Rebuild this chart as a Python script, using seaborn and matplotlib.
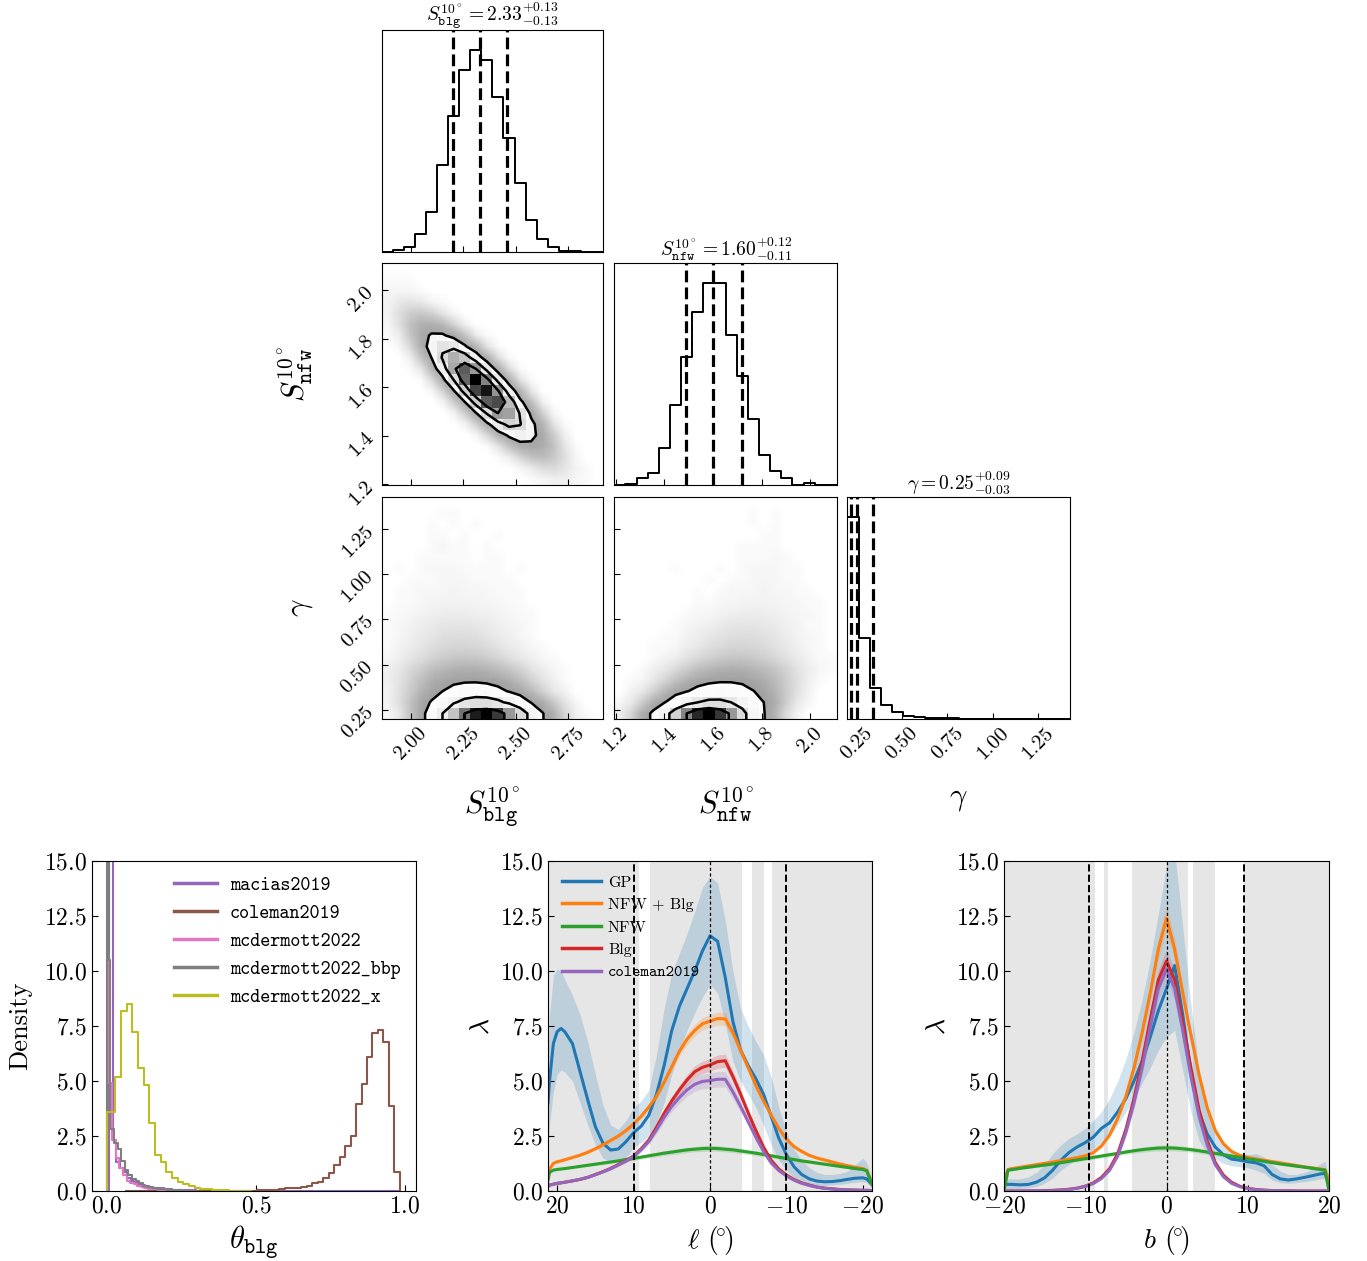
import numpy as np
import matplotlib
matplotlib.use("Agg")
import matplotlib.pyplot as plt
from matplotlib.colors import LinearSegmentedColormap
from matplotlib.lines import Line2D
from matplotlib.ticker import FixedLocator, FormatStrFormatter
import seaborn as sns

plt.rcParams.update({
    "font.family": "serif",
    "font.serif": ["cmr10"],
    "mathtext.fontset": "cm",
    "axes.formatter.use_mathtext": True,
    "axes.unicode_minus": True,
    "xtick.direction": "in",
    "ytick.direction": "in",
})

# ======================= DATA =======================
# ---- corner plot: axis ranges (sample ranges), 20 bins per parameter ----
S_BLG_RANGE = [1.862, 2.916]
S_NFW_RANGE = [1.195, 2.110]
GAMMA_RANGE = [0.200, 1.425]

s_blg_hist = [0.0, 0.007, 0.02, 0.086, 0.198, 0.427, 0.671, 0.897, 1.0, 0.95,
              0.768, 0.56, 0.339, 0.156, 0.06, 0.02, 0.004, 0.001, 0.0, 0.0]
s_nfw_hist = [0.0, 0.007, 0.034, 0.06, 0.184, 0.40, 0.634, 0.857, 1.0, 1.0,
              0.745, 0.54, 0.328, 0.152, 0.069, 0.034, 0.003, 0.009, 0.0, 0.0]
gamma_hist = [1.0, 0.40, 0.154, 0.071, 0.036, 0.016, 0.008, 0.006, 0.004, 0.003,
              0.002, 0.0015, 0.001, 0.001, 0.0005, 0.0005, 0.0003, 0.0002, 0.0001, 0.0]

# median, minus error, plus error
s_blg_summary = [2.33, 0.13, 0.13]
s_nfw_summary = [1.60, 0.11, 0.12]
gamma_summary = [0.25, 0.03, 0.09]

S_BLG_TICKS = [2.00, 2.25, 2.50, 2.75]
S_NFW_TICKS = [1.2, 1.4, 1.6, 1.8, 2.0]
GAMMA_TICKS = [0.25, 0.50, 0.75, 1.00, 1.25]

# 2D histogram counts (rows listed from top of panel to bottom, 20 x-bins each)
BLG_NFW_COUNTS = [
    [0, 0, 0, 0, 0, 0, 0, 0, 0, 0, 0, 0, 0, 0, 0, 0, 0, 0, 0, 0],
    [1, 1, 1, 0, 0, 0, 0, 0, 0, 0, 0, 0, 0, 0, 0, 0, 0, 0, 0, 0],
    [2, 2, 2, 1, 0, 0, 0, 0, 0, 0, 0, 0, 0, 0, 0, 0, 0, 0, 0, 0],
    [3, 7, 9, 7, 3, 1, 0, 0, 0, 0, 0, 0, 0, 0, 0, 0, 0, 0, 0, 0],
    [3, 11, 22, 27, 19, 8, 2, 0, 0, 0, 0, 0, 0, 0, 0, 0, 0, 0, 0, 0],
    [2, 10, 33, 64, 72, 46, 17, 4, 0, 0, 0, 0, 0, 0, 0, 0, 0, 0, 0, 0],
    [1, 5, 28, 88, 157, 160, 94, 32, 6, 1, 0, 0, 0, 0, 0, 0, 0, 0, 0, 0],
    [0, 2, 14, 69, 197, 321, 299, 161, 50, 9, 1, 0, 0, 0, 0, 0, 0, 0, 0, 0],
    [0, 0, 4, 31, 142, 369, 550, 471, 232, 66, 11, 1, 0, 0, 0, 0, 0, 0, 0, 0],
    [0, 0, 1, 8, 59, 243, 580, 792, 621, 281, 73, 11, 1, 0, 0, 0, 0, 0, 0, 0],
    [0, 0, 0, 1, 14, 92, 350, 765, 990, 690, 286, 68, 9, 1, 0, 0, 0, 0, 0, 0],
    [0, 0, 0, 0, 2, 20, 122, 424, 850, 950, 642, 244, 53, 7, 0, 0, 0, 0, 0, 0],
    [0, 0, 0, 0, 0, 3, 24, 135, 431, 790, 832, 504, 176, 35, 4, 0, 0, 0, 0, 0],
    [0, 0, 0, 0, 0, 0, 3, 25, 126, 367, 621, 600, 331, 106, 19, 2, 0, 0, 0, 0],
    [0, 0, 0, 0, 0, 0, 0, 3, 21, 99, 265, 408, 362, 184, 54, 9, 1, 0, 0, 0],
    [0, 0, 0, 0, 0, 0, 0, 0, 2, 15, 65, 160, 227, 184, 86, 23, 4, 0, 0, 0],
    [0, 0, 0, 0, 0, 0, 0, 0, 0, 1, 9, 36, 81, 105, 78, 33, 8, 1, 0, 0],
    [0, 0, 0, 0, 0, 0, 0, 0, 0, 0, 1, 5, 17, 35, 41, 28, 11, 2, 0, 0],
    [0, 0, 0, 0, 0, 0, 0, 0, 0, 0, 0, 0, 2, 6, 12, 14, 8, 3, 1, 0],
    [0, 0, 0, 0, 0, 0, 0, 0, 0, 0, 0, 0, 0, 1, 2, 4, 4, 2, 1, 0],
]
BLG_GAMMA_COUNTS = [
    [0, 0, 0, 0, 0, 0, 0, 0, 0, 0, 0, 0, 0, 0, 0, 0, 0, 0, 0, 0],
    [0, 0, 0, 0, 0, 1, 1, 0, 0, 0, 0, 0, 0, 0, 0, 0, 0, 0, 0, 0],
    [0, 0, 0, 0, 1, 0, 1, 0, 1, 0, 0, 0, 0, 0, 0, 0, 0, 0, 0, 0],
    [0, 0, 0, 0, 1, 1, 0, 1, 0, 0, 1, 0, 0, 0, 0, 0, 0, 0, 0, 0],
    [0, 0, 0, 0, 1, 2, 1, 1, 0, 1, 0, 0, 0, 0, 0, 0, 0, 0, 0, 0],
    [0, 0, 0, 1, 1, 1, 1, 1, 0, 1, 1, 0, 0, 0, 0, 0, 0, 0, 0, 0],
    [0, 1, 0, 1, 2, 2, 2, 1, 1, 1, 1, 0, 1, 0, 0, 0, 0, 0, 0, 0],
    [0, 0, 1, 1, 1, 2, 2, 2, 1, 1, 1, 1, 0, 0, 0, 0, 0, 0, 0, 0],
    [0, 1, 1, 2, 2, 2, 3, 2, 2, 2, 1, 1, 1, 0, 0, 0, 0, 0, 0, 0],
    [0, 1, 1, 2, 3, 3, 3, 3, 3, 2, 2, 1, 1, 0, 0, 0, 0, 0, 0, 0],
    [1, 1, 2, 3, 4, 5, 5, 5, 4, 4, 3, 2, 1, 1, 0, 0, 0, 0, 0, 0],
    [1, 2, 3, 5, 6, 8, 8, 8, 7, 6, 4, 3, 2, 1, 0, 0, 0, 0, 0, 0],
    [1, 2, 4, 6, 8, 11, 12, 12, 11, 8, 6, 4, 2, 1, 0, 0, 0, 0, 0, 0],
    [1, 3, 5, 8, 12, 15, 17, 17, 16, 13, 9, 6, 4, 2, 1, 0, 0, 0, 0, 0],
    [2, 4, 8, 12, 18, 24, 28, 29, 27, 23, 17, 11, 7, 4, 2, 1, 0, 0, 0, 0],
    [4, 7, 14, 23, 35, 47, 57, 62, 60, 51, 40, 28, 18, 9, 5, 2, 1, 0, 0, 0],
    [4, 9, 19, 36, 60, 87, 113, 128, 128, 113, 87, 60, 36, 19, 9, 4, 1, 0, 0, 0],
    [3, 10, 23, 52, 99, 164, 235, 288, 306, 280, 221, 150, 88, 44, 19, 7, 3, 0, 0, 0],
    [3, 11, 31, 81, 177, 330, 523, 710, 820, 807, 676, 484, 294, 153, 68, 26, 9, 2, 0, 0],
    [2, 7, 29, 95, 255, 575, 1076, 1660, 2123, 2247, 1970, 1428, 857, 426, 176, 59, 17, 4, 1, 0],
]
NFW_GAMMA_COUNTS = [
    [0, 0, 0, 0, 0, 0, 0, 0, 0, 0, 0, 0, 0, 0, 0, 0, 0, 0, 0, 0],
    [0, 0, 0, 0, 0, 0, 0, 0, 0, 0, 0, 0, 1, 0, 1, 0, 0, 0, 0, 0],
    [0, 0, 0, 0, 0, 0, 0, 0, 0, 0, 0, 0, 1, 0, 1, 0, 0, 0, 0, 0],
    [0, 0, 0, 0, 0, 0, 0, 0, 0, 0, 0, 0, 0, 1, 1, 0, 0, 0, 0, 0],
    [0, 0, 0, 0, 0, 0, 0, 0, 0, 0, 0, 1, 1, 1, 1, 0, 0, 0, 0, 0],
    [0, 0, 0, 0, 0, 0, 0, 0, 0, 0, 0, 1, 1, 1, 2, 1, 0, 0, 0, 0],
    [0, 0, 0, 0, 0, 1, 0, 0, 0, 1, 0, 1, 2, 2, 2, 1, 1, 0, 0, 0],
    [0, 0, 0, 0, 0, 0, 0, 0, 1, 0, 1, 1, 2, 2, 2, 1, 1, 0, 0, 0],
    [0, 0, 0, 0, 0, 0, 0, 1, 0, 1, 2, 2, 2, 3, 2, 2, 1, 1, 0, 0],
    [0, 0, 0, 0, 0, 0, 0, 1, 1, 2, 2, 3, 3, 3, 3, 2, 2, 1, 1, 0],
    [0, 0, 0, 0, 0, 0, 1, 2, 2, 3, 4, 5, 5, 5, 4, 3, 2, 2, 1, 0],
    [0, 0, 0, 0, 0, 1, 2, 3, 4, 6, 8, 8, 8, 7, 6, 4, 3, 1, 1, 0],
    [0, 0, 0, 0, 1, 1, 3, 5, 7, 9, 11, 12, 12, 10, 8, 5, 3, 2, 1, 0],
    [0, 0, 0, 1, 1, 2, 5, 7, 11, 14, 17, 17, 16, 14, 10, 7, 4, 2, 1, 0],
    [0, 0, 0, 1, 3, 5, 9, 14, 20, 25, 28, 29, 26, 21, 15, 10, 6, 3, 1, 1],
    [0, 0, 1, 4, 7, 14, 23, 35, 47, 57, 62, 60, 51, 40, 28, 18, 9, 5, 2, 1],
    [0, 1, 2, 7, 16, 32, 55, 82, 108, 126, 129, 117, 93, 64, 40, 22, 10, 4, 1, 0],
    [0, 3, 7, 19, 44, 88, 150, 221, 280, 306, 288, 235, 164, 99, 52, 23, 10, 3, 0, 0],
    [2, 6, 22, 62, 149, 298, 503, 712, 847, 847, 712, 503, 298, 149, 62, 22, 6, 2, 0, 0],
    [4, 17, 65, 197, 490, 989, 1623, 2168, 2355, 2080, 1494, 873, 415, 160, 51, 13, 3, 0, 0, 0],
]

# ---- bottom-left: theta_blg posterior histograms (bin edges, densities) ----
theta_names = ["macias2019", "coleman2019", "mcdermott2022", "mcdermott2022_bbp", "mcdermott2022_x"]
theta_colors = ["#9467bd", "#8c564b", "#e377c2", "#7f7f7f", "#bcbd22"]
macias_edges = [0.008, 0.02, 0.032, 0.044, 0.056, 0.068, 0.08, 0.092, 0.104, 0.116, 0.128,
                0.14, 0.155, 0.17, 0.19, 0.22, 0.26, 0.3, 0.4, 0.6, 0.8, 0.98]
macias_vals = [40.0, 2.3, 1.3, 1.05, 0.85, 0.6, 0.45, 0.38, 0.32, 0.27, 0.22,
               0.18, 0.15, 0.12, 0.09, 0.06, 0.04, 0.02, 0.01, 0.01, 0.01]
coleman_range = [0.063, 0.983]
coleman_vals = [0.0, 0.0, 0.0, 0.0, 0.0, 0.0, 0.0, 0.0, 0.0, 0.0,
                0.0, 0.0, 0.0, 0.0, 0.0, 0.01, 0.01, 0.01, 0.02, 0.02,
                0.01, 0.01, 0.02, 0.02, 0.03, 0.04, 0.05, 0.06, 0.08, 0.12,
                0.14, 0.15, 0.2, 0.25, 0.35, 0.42, 0.58, 0.8, 1.18, 1.56,
                2.05, 2.52, 3.95, 4.86, 6.08, 7.2, 7.32, 6.79, 3.86, 0.88]
pink_edges = [0.0, 0.008, 0.018, 0.03, 0.042, 0.054, 0.066, 0.078, 0.09, 0.102, 0.114,
              0.126, 0.138, 0.15, 0.17, 0.2, 0.25, 0.3]
pink_vals = [10.5, 4.9, 2.3, 1.5, 1.05, 0.75, 0.45, 0.35, 0.3, 0.25, 0.18, 0.14, 0.1,
             0.07, 0.04, 0.02, 0.01]
bbp_edges = [0.0, 0.006, 0.012, 0.024, 0.036, 0.048, 0.06, 0.072, 0.084, 0.096, 0.108,
             0.12, 0.135, 0.15, 0.17, 0.2, 0.25, 0.3]
bbp_vals = [30.0, 10.5, 2.8, 2.2, 1.9, 1.35, 0.95, 0.75, 0.55, 0.45, 0.35, 0.25, 0.18,
            0.12, 0.08, 0.04, 0.02]
xray_edges = [0.0, 0.028, 0.047, 0.066, 0.085, 0.104, 0.123, 0.142, 0.161, 0.18, 0.199,
              0.218, 0.237, 0.256, 0.275, 0.294, 0.313, 0.332, 0.351, 0.37, 0.389,
              0.408, 0.427, 0.446, 0.465, 0.484]
xray_vals = [3.6, 5.2, 8.2, 8.5, 7.24, 5.58, 4.82, 3.08, 1.64, 1.33, 0.88, 0.58, 0.42,
             0.30, 0.23, 0.15, 0.11, 0.07, 0.05, 0.03, 0.03, 0.02, 0.02, 0.01, 0.01]

# ---- bottom-middle: profiles along ell ----
ell = [21.2, 21.0, 20.5, 20, 19.5, 19, 18, 17, 16, 15, 14, 13, 12, 11, 10, 9, 8, 7, 6, 5, 4,
       3, 2, 1, 0, -1, -2, -3, -4, -5, -6, -7, -8, -9, -10, -11, -12, -13, -14, -15, -16,
       -17, -18, -19, -20, -20.5, -21.2]
gp_l = [4.0, 5.0, 6.7, 7.24, 7.39, 7.24, 6.7, 5.42, 4.14, 2.92, 2.17, 1.86, 1.91, 2.24, 2.65,
        2.95, 3.45, 4.4, 5.7, 7.3, 8.4, 9.2, 10.0, 10.9, 11.6, 11.35, 9.7, 7.7, 6.4, 5.7, 5.1,
        4.4, 3.4, 2.4, 1.65, 1.1, 0.75, 0.55, 0.45, 0.42, 0.43, 0.47, 0.53, 0.58, 0.6, 0.55, 0.3]
gp_l_hi = [6.0, 8.0, 9.8, 10.1, 10.0, 9.6, 8.9, 8.0, 6.8, 5.3, 3.9, 3.0, 2.8, 3.2, 3.8, 4.1,
           4.6, 6.2, 8.3, 9.9, 10.8, 11.7, 12.7, 13.8, 14.3, 14.0, 12.3, 10.0, 8.3, 7.5, 6.8,
           6.2, 5.2, 3.8, 2.7, 1.9, 1.4, 1.05, 0.85, 0.75, 0.75, 0.8, 0.9, 1.2, 1.5, 1.3, 0.6]
gp_l_lo = [2.2, 3.0, 4.5, 5.3, 5.5, 5.4, 5.0, 4.0, 3.0, 2.1, 1.5, 1.3, 1.3, 1.5, 2.0, 2.2, 2.5,
           3.1, 4.0, 5.3, 6.4, 7.3, 8.1, 8.8, 9.4, 9.0, 7.6, 5.9, 5.0, 4.4, 3.8, 3.0, 2.1, 1.4,
           0.95, 0.6, 0.4, 0.3, 0.25, 0.25, 0.28, 0.3, 0.35, 0.4, 0.42, 0.4, 0.1]
nfwblg_l = [0.55, 1.0, 1.25, 1.33, 1.37, 1.42, 1.52, 1.63, 1.76, 1.92, 2.1, 2.3, 2.5, 2.75,
            3.05, 3.4, 3.82, 4.3, 4.95, 5.65, 6.35, 6.9, 7.3, 7.6, 7.72, 7.84, 7.82, 7.2, 6.4,
            5.6, 4.8, 4.1, 3.45, 2.85, 2.35, 2.02, 1.8, 1.62, 1.5, 1.41, 1.32, 1.23, 1.15,
            1.08, 1.02, 0.95, 0.35]
nfwblg_l_err = [0.03, 0.05, 0.05, 0.05, 0.05, 0.05, 0.05, 0.06, 0.06, 0.07, 0.08, 0.08, 0.09,
                0.1, 0.11, 0.12, 0.14, 0.16, 0.18, 0.2, 0.23, 0.25, 0.27, 0.28, 0.29, 0.3, 0.3,
                0.28, 0.25, 0.22, 0.19, 0.16, 0.14, 0.12, 0.1, 0.09, 0.08, 0.07, 0.06, 0.06,
                0.06, 0.05, 0.05, 0.05, 0.05, 0.05, 0.03]
nfw_l = [0.5, 0.85, 0.95, 0.98, 1.0, 1.02, 1.07, 1.12, 1.17, 1.22, 1.27, 1.32, 1.37, 1.43, 1.48,
         1.54, 1.6, 1.66, 1.72, 1.77, 1.82, 1.87, 1.9, 1.93, 1.94, 1.93, 1.9, 1.87, 1.82, 1.77,
         1.72, 1.66, 1.6, 1.54, 1.48, 1.43, 1.37, 1.32, 1.27, 1.22, 1.17, 1.12, 1.07, 1.02,
         0.98, 0.92, 0.3]
nfw_l_err = [0.03, 0.05, 0.05, 0.05, 0.05, 0.05, 0.05, 0.06, 0.06, 0.06, 0.07, 0.07, 0.08, 0.08,
             0.09, 0.09, 0.1, 0.1, 0.11, 0.11, 0.12, 0.12, 0.12, 0.13, 0.13, 0.13, 0.12, 0.12,
             0.12, 0.11, 0.11, 0.1, 0.1, 0.09, 0.09, 0.08, 0.08, 0.07, 0.07, 0.06, 0.06, 0.06,
             0.05, 0.05, 0.05, 0.05, 0.03]
blg_l = [0.2, 0.27, 0.31, 0.35, 0.37, 0.4, 0.46, 0.53, 0.62, 0.75, 0.88, 1.03, 1.2, 1.38, 1.59,
         1.92, 2.32, 2.9, 3.53, 4.1, 4.6, 5.05, 5.42, 5.62, 5.73, 5.88, 5.92, 5.2, 4.4, 3.55,
         2.75, 2.0, 1.4, 1.0, 0.73, 0.52, 0.37, 0.27, 0.18, 0.13, 0.1, 0.07, 0.05, 0.04, 0.03,
         0.03, 0.02]
blg_l_err = [0.02, 0.02, 0.02, 0.03, 0.03, 0.03, 0.03, 0.04, 0.04, 0.05, 0.05, 0.06, 0.07, 0.08,
             0.09, 0.1, 0.12, 0.15, 0.18, 0.2, 0.23, 0.25, 0.27, 0.28, 0.29, 0.3, 0.3, 0.27,
             0.23, 0.19, 0.15, 0.11, 0.08, 0.06, 0.05, 0.04, 0.03, 0.02, 0.02, 0.01, 0.01, 0.01,
             0.01, 0.01, 0.01, 0.01, 0.01]
col_l = [0.2, 0.27, 0.31, 0.35, 0.37, 0.4, 0.46, 0.53, 0.62, 0.74, 0.87, 1.01, 1.18, 1.36, 1.57,
         1.88, 2.25, 2.78, 3.35, 3.85, 4.25, 4.6, 4.85, 4.98, 5.02, 5.08, 5.08, 4.5, 3.85, 3.15,
         2.45, 1.8, 1.28, 0.93, 0.68, 0.49, 0.35, 0.25, 0.17, 0.12, 0.09, 0.06, 0.05, 0.04,
         0.03, 0.03, 0.02]
col_l_err = [0.02, 0.02, 0.02, 0.03, 0.03, 0.03, 0.03, 0.04, 0.04, 0.05, 0.05, 0.06, 0.07, 0.08,
             0.1, 0.12, 0.14, 0.17, 0.2, 0.23, 0.26, 0.29, 0.31, 0.33, 0.34, 0.35, 0.35, 0.31,
             0.26, 0.21, 0.17, 0.12, 0.09, 0.07, 0.05, 0.04, 0.03, 0.02, 0.02, 0.01, 0.01, 0.01,
             0.01, 0.01, 0.01, 0.01, 0.01]
ell_masked = [(21.2, 9.3), (7.9, -4.2), (-5.5, -7.1), (-8.1, -21.2)]
ell_roi = [10.0, -10.0]

# ---- bottom-right: profiles along b ----
bcoord = [-20, -19.5, -19, -18, -17, -16, -15, -14, -13, -12, -11, -10, -9, -8, -7, -6, -5, -4,
          -3, -2, -1, 0, 1, 2, 3, 4, 5, 6, 7, 8, 9, 10, 11, 12, 13, 14, 15, 16, 17, 18, 19,
          19.5, 20]
gp_b = [0.3, 0.3, 0.3, 0.28, 0.3, 0.4, 0.6, 0.95, 1.4, 1.75, 2.0, 2.2, 2.45, 2.85, 3.1, 3.6,
        4.2, 5.0, 5.9, 7.0, 8.2, 9.2, 10.25, 8.0, 5.4, 3.6, 2.6, 2.0, 1.65, 1.45, 1.4, 1.33,
        1.28, 1.15, 0.75, 0.55, 0.5, 0.55, 0.62, 0.7, 0.78, 0.8, 0.35]
gp_b_hi = [0.5, 0.55, 0.55, 0.55, 0.65, 0.85, 1.2, 1.7, 2.1, 2.4, 2.6, 2.85, 3.2, 3.6, 4.2,
           5.0, 6.0, 7.2, 8.7, 10.5, 12.6, 14.8, 15.5, 12.0, 8.5, 5.5, 3.7, 2.7, 2.1, 1.8, 1.7,
           1.65, 1.7, 1.55, 1.2, 0.9, 0.75, 0.75, 0.85, 1.0, 1.25, 1.35, 0.6]
gp_b_lo = [0.1, 0.1, 0.1, 0.12, 0.15, 0.2, 0.35, 0.6, 0.95, 1.2, 1.5, 1.7, 1.9, 2.2, 2.5, 3.0,
           3.6, 4.2, 4.9, 5.6, 6.4, 7.0, 7.3, 5.5, 3.6, 2.3, 1.7, 1.45, 1.25, 1.15, 1.1, 1.05,
           0.95, 0.8, 0.5, 0.38, 0.35, 0.38, 0.42, 0.48, 0.55, 0.55, 0.1]
nfwblg_b = [0.5, 0.98, 1.02, 1.08, 1.14, 1.2, 1.26, 1.32, 1.38, 1.45, 1.52, 1.6, 1.75, 2.05,
            2.55, 3.3, 4.3, 5.6, 7.2, 9.0, 11.0, 12.4, 11.0, 9.0, 7.1, 5.3, 3.8, 2.75, 2.15,
            1.8, 1.62, 1.53, 1.46, 1.4, 1.34, 1.28, 1.22, 1.16, 1.1, 1.05, 1.0, 0.97, 0.5]
nfwblg_b_err = [0.03, 0.05, 0.05, 0.05, 0.05, 0.05, 0.05, 0.05, 0.06, 0.06, 0.06, 0.07, 0.08,
                0.09, 0.11, 0.14, 0.18, 0.24, 0.3, 0.38, 0.48, 0.6, 0.48, 0.38, 0.3, 0.24, 0.18,
                0.14, 0.11, 0.09, 0.08, 0.07, 0.06, 0.06, 0.06, 0.05, 0.05, 0.05, 0.05, 0.05,
                0.05, 0.05, 0.03]
nfw_b = [0.0, 0.95, 0.97, 1.03, 1.08, 1.13, 1.18, 1.23, 1.29, 1.35, 1.41, 1.47, 1.53, 1.59,
         1.65, 1.71, 1.77, 1.83, 1.88, 1.92, 1.95, 1.96, 1.95, 1.92, 1.88, 1.83, 1.77, 1.71,
         1.65, 1.59, 1.53, 1.47, 1.41, 1.35, 1.29, 1.23, 1.18, 1.13, 1.08, 1.03, 0.97, 0.95, 0.0]
nfw_b_err = [0.0, 0.05, 0.05, 0.05, 0.05, 0.06, 0.06, 0.06, 0.07, 0.07, 0.08, 0.08, 0.09, 0.09,
             0.1, 0.1, 0.11, 0.11, 0.12, 0.12, 0.13, 0.13, 0.13, 0.12, 0.12, 0.11, 0.11, 0.1,
             0.1, 0.09, 0.09, 0.08, 0.08, 0.07, 0.07, 0.06, 0.06, 0.06, 0.05, 0.05, 0.05, 0.05, 0.0]
blg_b = [0.0, 0.0, 0.0, 0.0, 0.01, 0.01, 0.02, 0.03, 0.05, 0.08, 0.13, 0.22, 0.37, 0.62, 1.02,
         1.7, 2.8, 4.2, 5.9, 7.8, 9.6, 10.45, 9.6, 7.7, 5.6, 3.7, 2.3, 1.3, 0.72, 0.4, 0.22,
         0.12, 0.07, 0.04, 0.02, 0.01, 0.01, 0.0, 0.0, 0.0, 0.0, 0.0, 0.0]
blg_b_err = [0.0, 0.0, 0.0, 0.0, 0.01, 0.01, 0.01, 0.01, 0.01, 0.01, 0.02, 0.02, 0.03, 0.04,
             0.06, 0.1, 0.16, 0.24, 0.32, 0.4, 0.48, 0.52, 0.48, 0.4, 0.32, 0.24, 0.16, 0.1,
             0.06, 0.04, 0.03, 0.02, 0.01, 0.01, 0.01, 0.01, 0.0, 0.0, 0.0, 0.0, 0.0, 0.0, 0.0]
col_b = [0.0, 0.0, 0.0, 0.0, 0.0, 0.01, 0.01, 0.02, 0.04, 0.07, 0.12, 0.2, 0.34, 0.57, 0.95,
         1.6, 2.65, 4.0, 5.6, 7.45, 9.2, 10.1, 9.2, 7.3, 5.2, 3.4, 2.1, 1.2, 0.65, 0.35, 0.2,
         0.11, 0.06, 0.03, 0.02, 0.01, 0.0, 0.0, 0.0, 0.0, 0.0, 0.0, 0.0]
col_b_err = [0.0, 0.0, 0.0, 0.0, 0.0, 0.01, 0.01, 0.01, 0.01, 0.01, 0.02, 0.02, 0.03, 0.05,
             0.07, 0.11, 0.17, 0.26, 0.35, 0.44, 0.52, 0.56, 0.52, 0.44, 0.35, 0.26, 0.17, 0.11,
             0.07, 0.05, 0.03, 0.02, 0.01, 0.01, 0.01, 0.0, 0.0, 0.0, 0.0, 0.0, 0.0, 0.0, 0.0]
b_masked = [(-20, -8.8), (-7.75, -7.2), (-4.2, 2.7), (3.2, 5.95), (9.5, 20)]
b_roi = [-9.5, 9.5]

profile_names = ["GP", "NFW + Blg", "NFW", "Blg", "coleman2019"]
profile_colors = ["#1f77b4", "#ff7f0e", "#2ca02c", "#d62728", "#9467bd"]

# ======================= FIGURE =======================
W, H = 1367, 1261
fig = plt.figure(figsize=(W / 100, H / 100), dpi=100)


def px_axes(x0, y0, x1, y1):
    return fig.add_axes([x0 / W, 1 - y1 / H, (x1 - x0) / W, (y1 - y0) / H])


def step_hist(ax, edges, vals, color, lw=1.5):
    e = np.asarray(edges, float)
    v = np.asarray(vals, float)
    e = np.concatenate([[e[0] - 1e-4], e, [e[-1] + 1e-4]])
    v = np.concatenate([[0.0], v, [0.0]])
    centers = 0.5 * (e[1:] + e[:-1])
    sns.histplot(x=list(centers), weights=list(v), bins=[float(t) for t in e],
                 element="step", fill=False, color=color, linewidth=lw, ax=ax)
    ax.set_ylabel("")


LEVELS = 1.0 - np.exp(-0.5 * np.arange(0.5, 2.1, 0.5) ** 2)
density_cmap = LinearSegmentedColormap.from_list("density_cmap", [(0, 0, 0, 1), (1, 1, 1, 0)])


def corner_2d(ax, rows_top_down, xr, yr):
    G = np.array(rows_top_down, dtype=float)[::-1]   # G[iy, ix]
    Hc = G.T                                         # Hc[ix, iy]
    xe = np.linspace(xr[0], xr[1], Hc.shape[0] + 1)
    ye = np.linspace(yr[0], yr[1], Hc.shape[1] + 1)
    # cloud of samples rendered as a soft gray haze
    alpha = 0.42 * (1.0 - np.exp(-(G / 40.0) ** 0.8))
    rgba = np.zeros(G.shape + (4,))
    rgba[..., 3] = alpha
    ax.imshow(rgba, extent=[xr[0], xr[1], yr[0], yr[1]], origin="lower",
              aspect="auto", interpolation="bilinear", zorder=0)
    srt = np.sort(Hc.flatten())[::-1]
    cum = np.cumsum(srt)
    cum /= cum[-1]
    V = np.empty(len(LEVELS))
    for k, v0 in enumerate(LEVELS):
        sel = srt[cum <= v0]
        V[k] = sel[-1] if len(sel) else srt[0]
    V.sort()
    m = np.diff(V) == 0
    while np.any(m):
        V[np.where(m)[0][0]] *= 1.0 - 1e-4
        m = np.diff(V) == 0
    V.sort()
    X1 = 0.5 * (xe[1:] + xe[:-1])
    Y1 = 0.5 * (ye[1:] + ye[:-1])
    H2 = Hc.min() + np.zeros((Hc.shape[0] + 4, Hc.shape[1] + 4))
    H2[2:-2, 2:-2] = Hc
    H2[2:-2, 1] = Hc[:, 0]
    H2[2:-2, -2] = Hc[:, -1]
    H2[1, 2:-2] = Hc[0]
    H2[-2, 2:-2] = Hc[-1]
    H2[1, 1] = Hc[0, 0]
    H2[1, -2] = Hc[0, -1]
    H2[-2, 1] = Hc[-1, 0]
    H2[-2, -2] = Hc[-1, -1]
    X2 = np.concatenate([X1[0] + np.array([-2, -1]) * np.diff(X1[:2]), X1,
                         X1[-1] + np.array([1, 2]) * np.diff(X1[-2:])])
    Y2 = np.concatenate([Y1[0] + np.array([-2, -1]) * np.diff(Y1[:2]), Y1,
                         Y1[-1] + np.array([1, 2]) * np.diff(Y1[-2:])])
    ax.contourf(X2, Y2, H2.T, [V.min(), Hc.max()], colors=["white"], antialiased=False, zorder=1)
    ax.pcolormesh(xe, ye, Hc.max() - Hc.T, cmap=density_cmap, shading="flat", zorder=1.5)
    ax.contour(X2, Y2, H2.T, V, colors="k", linewidths=1.8, zorder=2)
    ax.set_xlim(xr)
    ax.set_ylim(yr)


col_px = [(381.5, 603.3), (614.3, 837.0), (847.5, 1070.0)]
row_px = [(29.5, 251.5), (263.3, 485.3), (496.8, 719.0)]

params = [
    dict(rng=S_BLG_RANGE, hist=s_blg_hist, summ=s_blg_summary, ticks=S_BLG_TICKS, fmt="%.2f",
         label=r"$S^{10^\circ}_{\mathtt{blg}}$", tname=r"S^{10^\circ}_{\mathtt{blg}}"),
    dict(rng=S_NFW_RANGE, hist=s_nfw_hist, summ=s_nfw_summary, ticks=S_NFW_TICKS, fmt="%.1f",
         label=r"$S^{10^\circ}_{\mathtt{nfw}}$", tname=r"S^{10^\circ}_{\mathtt{nfw}}"),
    dict(rng=GAMMA_RANGE, hist=gamma_hist, summ=gamma_summary, ticks=GAMMA_TICKS, fmt="%.2f",
         label=r"$\gamma$", tname=r"\gamma"),
]
pair_grids = {(1, 0): BLG_NFW_COUNTS, (2, 0): BLG_GAMMA_COUNTS, (2, 1): NFW_GAMMA_COUNTS}

for i in range(3):
    for j in range(i + 1):
        ax = px_axes(col_px[j][0], row_px[i][0], col_px[j][1], row_px[i][1])
        px_, py_ = params[j], params[i]
        if i == j:
            edges = np.linspace(px_["rng"][0], px_["rng"][1], len(px_["hist"]) + 1)
            step_hist(ax, edges, px_["hist"], "k", lw=1.4)
            ax.set_xlim(px_["rng"])
            ax.set_ylim(0, 1.1 * max(px_["hist"]))
            med, lo, hi = px_["summ"]
            for q in (med - lo, med, med + hi):
                ax.axvline(q, ls="--", color="k", lw=2.3)
            ax.set_title(r"$%s = %.2f^{+%.2f}_{-%.2f}$" % (px_["tname"], med, hi, lo),
                         fontsize=14, pad=3)
            ax.set_yticks([])
        else:
            corner_2d(ax, pair_grids[(i, j)], px_["rng"], py_["rng"])
            ax.yaxis.set_major_locator(FixedLocator(py_["ticks"]))
            ax.yaxis.set_major_formatter(FormatStrFormatter(py_["fmt"]))
            if j == 0:
                for lab in ax.get_yticklabels():
                    lab.set_rotation(45)
                ax.set_ylabel(py_["label"], fontsize=22)
                ax.yaxis.set_label_coords(-0.3, 0.5)
            else:
                ax.tick_params(axis="y", labelleft=False)
        ax.xaxis.set_major_locator(FixedLocator(px_["ticks"]))
        ax.xaxis.set_major_formatter(FormatStrFormatter(px_["fmt"]))
        ax.tick_params(direction="in", length=4, labelsize=15)
        if i == 2:
            for lab in ax.get_xticklabels():
                lab.set_rotation(45)
            ax.set_xlabel(px_["label"], fontsize=22)
            ax.xaxis.set_label_coords(0.5, -0.3)
        else:
            ax.tick_params(axis="x", labelbottom=False)
            ax.set_xlabel("")

# ---------------- bottom-left ----------------
axL = px_axes(92, 861, 416, 1191)
coleman_edges = np.linspace(coleman_range[0], coleman_range[1], len(coleman_vals) + 1)
theta_series = [(macias_edges, macias_vals), (coleman_edges, coleman_vals),
                (pink_edges, pink_vals), (bbp_edges, bbp_vals), (xray_edges, xray_vals)]
for (edges, vals), c in zip(theta_series, theta_colors):
    step_hist(axL, edges, vals, c, lw=1.5)
axL.set_xlim(-0.05, 1.037)
axL.set_ylim(0, 15)
axL.set_xticks([0.0, 0.5, 1.0])
axL.set_yticks([0, 2.5, 5, 7.5, 10, 12.5, 15])
axL.set_xlabel(r"$\theta_{\mathtt{blg}}$", fontsize=22)
axL.set_ylabel("Density", fontsize=19, labelpad=9)
axL.tick_params(labelsize=17, length=4)
axL.legend([Line2D([], [], color=c, lw=2.5) for c in theta_colors], theta_names,
           loc="upper right", frameon=False, prop={"family": "cmtt10", "size": 13.8},
           handlelength=2.2, handletextpad=0.7, labelspacing=0.5, borderaxespad=0.4)


def profile_panel(ax, x, series, masked, roi, xlim):
    for a, b in masked:
        ax.axvspan(a, b, color="#e6e6e6", lw=0, zorder=0)
    for (y, lo, hi), c in zip(series, profile_colors):
        ax.fill_between(x, lo, hi, color=c, alpha=0.2, lw=0, zorder=1)
        sns.lineplot(x=list(x), y=list(y), color=c, linewidth=2.2, ax=ax, zorder=2)
    for v in roi:
        ax.axvline(v, color="k", ls="--", lw=1.4, zorder=3)
    ax.axvline(0, color="k", ls=(0, (2.5, 2)), lw=0.9, zorder=3)
    ax.set_xlim(xlim)
    ax.set_ylim(0, 15)
    ax.set_yticks([0, 2.5, 5, 7.5, 10, 12.5, 15])
    ax.set_ylabel(r"$\lambda$", fontsize=20)
    ax.tick_params(labelsize=17, length=4)


def band(y, err):
    y = np.asarray(y, float)
    e = np.asarray(err, float)
    return (y, y - e, y + e)


axM = px_axes(548, 861, 872, 1191)
profile_panel(axM, ell,
              [(gp_l, gp_l_lo, gp_l_hi), band(nfwblg_l, nfwblg_l_err), band(nfw_l, nfw_l_err),
               band(blg_l, blg_l_err), band(col_l, col_l_err)],
              ell_masked, ell_roi, (ell[0], ell[-1]))
axM.set_xticks([20, 10, 0, -10, -20])
axM.set_xlabel(r"$\ell$ $(\!^{\circ}\!)$", fontsize=20)
leg = axM.legend([Line2D([], [], color=c, lw=2.5) for c in profile_colors], profile_names,
                 loc="upper left", frameon=False, fontsize=11.5, handlelength=2.4,
                 handletextpad=0.45, labelspacing=0.52)
leg.get_texts()[-1].set_family("cmtt10")

axR = px_axes(1004, 861, 1329, 1191)
profile_panel(axR, bcoord,
              [(gp_b, gp_b_lo, gp_b_hi), band(nfwblg_b, nfwblg_b_err), band(nfw_b, nfw_b_err),
               band(blg_b, blg_b_err), band(col_b, col_b_err)],
              b_masked, b_roi, (bcoord[0], bcoord[-1]))
axR.set_xticks([-20, -10, 0, 10, 20])
axR.set_xlabel(r"$b$ $(\!^{\circ}\!)$", fontsize=20)
if axR.get_legend() is not None:
    axR.get_legend().remove()

fig.savefig("out.png", dpi=100)
